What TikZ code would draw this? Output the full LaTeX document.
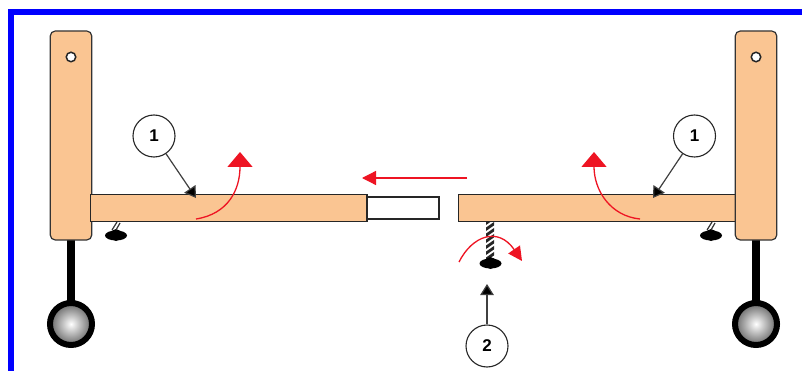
\documentclass[tikz,border=0pt]{standalone}
\usepackage{fontspec}
\setmainfont{Liberation Sans}
\usetikzlibrary{arrows.meta,shapes.geometric}
\definecolor{wood}{RGB}{250,197,146}
\definecolor{redarrow}{RGB}{238,20,35}
\tikzset{
  x=1pt,y=-1pt,
  post/.style={draw=black!80,fill=wood,line width=1.2pt,rounded corners=5pt,minimum width=41.5pt,minimum height=209pt,inner sep=0pt},
  rail/.style={draw=black!85,fill=wood,line width=1.3pt,minimum width=276.5pt,minimum height=26.5pt,inner sep=0pt},
  slide/.style={draw=black!85,fill=white,line width=1.3pt,minimum width=72pt,minimum height=22pt,inner sep=0pt},
  hole/.style={circle,draw=black!85,fill=white,line width=1.5pt,minimum size=9.5pt,inner sep=0pt},
  callout/.style={circle,draw=black!85,fill=white,line width=1.1pt,minimum size=42pt,inner sep=0pt,font=\bfseries\fontsize{17}{19}\selectfont},
  stem/.style={line width=7.5pt,black},
  wheel/.style={circle,draw=black,line width=6pt,inner color=white,outer color=black!60,minimum size=42pt,inner sep=0pt},
  foot/.style={ellipse,fill=black,minimum width=22pt,minimum height=10pt,inner sep=0pt},
  lump/.style={ellipse,fill=black,minimum width=11pt,minimum height=12pt,inner sep=0pt},
  leader/.style={draw=black!75,line width=1.2pt,-{Triangle[length=11pt,width=13.5pt,fill=black]}},
  turn/.style={draw=redarrow,line width=1.3pt,-{Triangle[length=15pt,width=25pt,fill=redarrow]}},
  turnsmall/.style={draw=redarrow,line width=1.3pt,-{Triangle[length=14pt,width=14pt,fill=redarrow]}},
  blueedge/.style={draw=blue,line width=6pt}
}
\begin{document}
\begin{tikzpicture}
\useasboundingbox (0,0) rectangle (802,371);
\fill[white] (0,0) rectangle (802,371);
% frame
\draw[blueedge] (10.5,371) -- (10.5,12) -- (802,12);
% named points
\coordinate (lwhlx) at (71,324);
\coordinate (rwhlx) at (756,324);
% stems
\coordinate (lstemtop) at (71,238);
\coordinate (rstemtop) at (756,238);
\draw[stem] (lstemtop) -- (lwhlx);
\draw[stem] (rstemtop) -- (rwhlx);
\node[wheel] (lwheel) at (lwhlx) {};
\node[wheel] (rwheel) at (rwhlx) {};
% small feet
\node[foot] (lfoot) at (116,235.5) {};
\node[lump] (lfootb) at (116,235) {};
\node[foot] (rfoot) at (711,235.5) {};
\node[lump] (rfootb) at (711,235) {};
\draw[black!80,line width=1.2pt] (112,230) -- (117,222);
\draw[black!80,line width=1.2pt] (116,230) -- (120,223);
\draw[black!80,line width=1.2pt] (707,230) -- (712,222);
\draw[black!80,line width=1.2pt] (711,230) -- (715,223);
% rails and posts
\node[slide] (slidebar) at (403,208) {};
\node[rail] (rrail) at (597,208) {};
\node[post] (lpost) at (71,135.5) {};
\node[post] (rpost) at (756,135.5) {};
\node[rail] (lrail) at (228.75,208) {};
\node[hole] (lhole) at (71,57) {};
\node[hole] (rhole) at (756,57) {};
% centre screw
\fill[white] (486,222) rectangle (494,258);
\begin{scope}
\clip (486,222) rectangle (494,258);
\foreach \yy in {220,226,...,262}{
  \draw[black!85,line width=2.8pt] (485,\yy+4) -- (495,\yy-3);
}
\end{scope}
\node[foot] (cnut) at (490.5,263.5) {};
\node[lump] (cnutb) at (490.5,263) {};
% curved red arrows
\coordinate (la) at (196,219);
\coordinate (lb) at (240,152);
\draw[turn] (la) .. controls (228,214) and (240,190) .. (lb);
\coordinate (ra) at (640,219);
\coordinate (rb) at (594,152);
\draw[turn] (ra) .. controls (610,216) and (594,190) .. (rb);
\coordinate (ca) at (459,262);
\coordinate (cb) at (522,261);
\draw[turnsmall] (ca) .. controls (472,236) and (498,226) .. (cb);
\coordinate (sa) at (467,178);
\coordinate (sb) at (362,178);
\draw[turnsmall] (sa) -- (sb);
% callouts
\node[callout] (c1l) at (154,136) {1};
\node[callout] (c1r) at (694.5,136) {1};
\node[callout] (c2) at (487,346) {2};
\coordinate (t1l) at (196,198);
\coordinate (t1r) at (653,198);
\coordinate (t2) at (487,284);
\draw[leader] (c1l) -- (t1l);
\draw[leader] (c1r) -- (t1r);
\draw[leader] (c2) -- (t2);
\end{tikzpicture}
\end{document}
